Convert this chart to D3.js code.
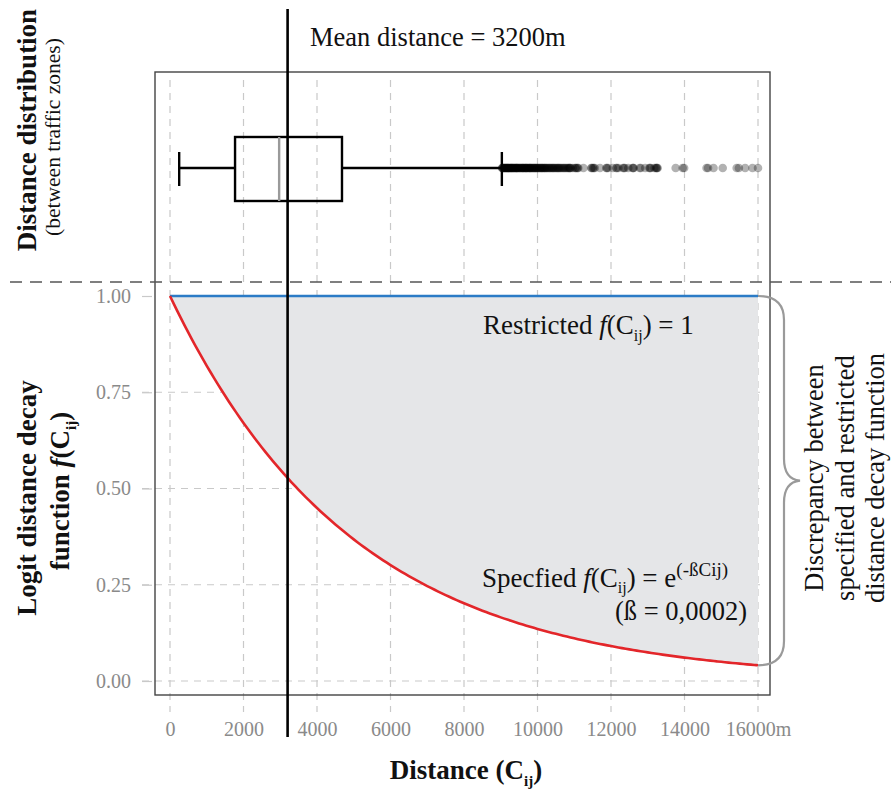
<!DOCTYPE html>
<html>
<head>
<meta charset="utf-8">
<script src="https://cdn.jsdelivr.net/npm/d3@7"></script>
<style>
  html, body { margin: 0; padding: 0; background: #fff; }
  svg { display: block; font-family: "Liberation Serif", "Times New Roman", serif; }
</style>
</head>
<body>
<svg id="chart" width="891" height="791"></svg>
<script>
// ---- data ----
const xTicks = [0, 2000, 4000, 6000, 8000, 10000, 12000, 14000, 16000];
const xTickLabels = ["0", "2000", "4000", "6000", "8000", "10000", "12000", "14000", "16000m"];
const yTicks = [0, 0.25, 0.5, 0.75, 1];
const yTickLabels = ["0.00", "0.25", "0.50", "0.75", "1.00"];

// box plot summary of distances between traffic zones (m)
const boxStats = { lowerWhisker: 250, q1: 1770, median: 2970, q3: 4680, upperWhisker: 9030 };
// outlying distances beyond the upper whisker (m)
const outliers = [
  9035, 9045, 9055, 9070, 9085, 9095, 9110, 9125, 9140, 9150, 9160, 9175, 9190, 9200,
  9210, 9220, 9240, 9255, 9265, 9280, 9290, 9305, 9320, 9330, 9345, 9360, 9375, 9390,
  9410, 9420, 9430, 9445, 9455, 9470, 9490, 9510, 9520, 9540, 9555, 9575, 9590, 9600,
  9615, 9630, 9650, 9665, 9680, 9690, 9705, 9720, 9740, 9760, 9775, 9790, 9800, 9815,
  9835, 9850, 9870, 9890, 9905, 9920, 9940, 9955, 9975, 9990, 10010, 10030, 10050,
  10070, 10090, 10110, 10125, 10140, 10165, 10185, 10200, 10220, 10240, 10260, 10285,
  10310, 10330, 10350, 10375, 10400, 10420, 10440, 10465, 10490, 10515, 10540, 10560,
  10580, 10605, 10630, 10660, 10690, 10715, 10740, 10770, 10800, 10830, 10850, 10870,
  10890, 10900, 10960, 11020, 11040, 11070, 11090, 11110, 11250, 11460, 11480, 11510,
  11530, 11560, 11700, 11870, 11890, 11920, 12050, 12140, 12160, 12200, 12330, 12350,
  12380, 12470, 12590, 12600, 12620, 12780, 12810, 12930, 13040, 13060, 13080, 13180,
  13220, 13240, 13250, 13270, 13760, 13950, 13990, 14600, 14640, 14790, 15040, 15420,
  15480, 15650, 15850, 16000
];
const meanDistance = 3200;

// distance decay: specified f(C) = exp(-beta * C), restricted f(C) = 1
const beta = 0.0002;
const decayDistances = d3.range(0, 16001, 100);
const specified = decayDistances.map(c => ({ c, f: Math.exp(-beta * c) }));
const restrictedValue = 1;

// ---- layout ----
const svg = d3.select("#chart");
const frame = { left: 155, right: 770, top: 72, bottom: 695 };
const x = d3.scaleLinear().domain([0, 16000]).range([170, 758]);
const y = d3.scaleLinear().domain([0, 1]).range([681, 296]);
const boxY = 168;
const gridColor = "#c9c9c9";

// vertical grid lines: upper panel and lower panel
const grid = svg.append("g").attr("stroke", gridColor).attr("stroke-width", 1.2).attr("stroke-dasharray", "7,6");
grid.selectAll(".vTop").data(xTicks).join("line")
  .attr("x1", d => x(d)).attr("x2", d => x(d)).attr("y1", 80).attr("y2", 282);
grid.selectAll(".vBot").data(xTicks).join("line")
  .attr("x1", d => x(d)).attr("x2", d => x(d)).attr("y1", 290).attr("y2", 712);
grid.selectAll(".h").data(yTicks.filter(d => d < 1)).join("line")
  .attr("x1", 142).attr("x2", 766).attr("y1", d => y(d)).attr("y2", d => y(d));

// gap between the two decay functions
const area = d3.area()
  .x(d => x(d.c))
  .y0(d => y(d.f))
  .y1(() => y(restrictedValue));
svg.append("path").datum(specified).attr("d", area).attr("fill", "#e5e6e8");

// restricted and specified curves
svg.append("line")
  .attr("x1", x(0)).attr("x2", x(16000))
  .attr("y1", y(restrictedValue)).attr("y2", y(restrictedValue))
  .attr("stroke", "#2b7bc6").attr("stroke-width", 2.6);
svg.append("path").datum(specified)
  .attr("d", d3.line().x(d => x(d.c)).y(d => y(d.f)).curve(d3.curveMonotoneX))
  .attr("fill", "none").attr("stroke", "#e3262a").attr("stroke-width", 2.6);

// frame
svg.append("rect")
  .attr("x", frame.left).attr("y", frame.top)
  .attr("width", frame.right - frame.left).attr("height", frame.bottom - frame.top)
  .attr("fill", "none").attr("stroke", "#444").attr("stroke-width", 1.4);

// panel separator
svg.append("line")
  .attr("x1", 10).attr("x2", 891).attr("y1", 282).attr("y2", 282)
  .attr("stroke", "#555").attr("stroke-width", 1.5).attr("stroke-dasharray", "12,8");

// box plot
const bp = svg.append("g").attr("stroke", "#000").attr("stroke-width", 2.4).attr("fill", "none");
bp.append("line").attr("x1", x(boxStats.lowerWhisker)).attr("x2", x(boxStats.q1)).attr("y1", boxY).attr("y2", boxY);
bp.append("line").attr("x1", x(boxStats.q3)).attr("x2", x(boxStats.upperWhisker)).attr("y1", boxY).attr("y2", boxY);
bp.append("line").attr("x1", x(boxStats.lowerWhisker)).attr("x2", x(boxStats.lowerWhisker)).attr("y1", boxY - 16).attr("y2", boxY + 18);
bp.append("line").attr("x1", x(boxStats.upperWhisker)).attr("x2", x(boxStats.upperWhisker)).attr("y1", boxY - 16).attr("y2", boxY + 18);
bp.append("rect").attr("x", x(boxStats.q1)).attr("y", boxY - 31)
  .attr("width", x(boxStats.q3) - x(boxStats.q1)).attr("height", 64);
bp.append("line").attr("x1", x(boxStats.median)).attr("x2", x(boxStats.median))
  .attr("y1", boxY - 31).attr("y2", boxY + 33).attr("stroke", "#9a9a9a");

svg.append("g").selectAll("circle").data(outliers).join("circle")
  .attr("cx", d => x(d)).attr("cy", boxY).attr("r", 4.3)
  .attr("fill", "#000").attr("fill-opacity", 0.3);

// mean distance line
svg.append("line")
  .attr("x1", x(meanDistance)).attr("x2", x(meanDistance)).attr("y1", 9).attr("y2", 737)
  .attr("stroke", "#000").attr("stroke-width", 2.6);
svg.append("text").attr("x", 310).attr("y", 46).attr("font-size", 26.5).attr("fill", "#111")
  .text(`Mean distance = ${meanDistance}m`);

// axes
const yAxis = d3.axisLeft(y).tickValues(yTicks).tickFormat((d, i) => yTickLabels[i])
  .tickSize(10).tickPadding(11);
const gy = svg.append("g").attr("transform", "translate(152,0)").call(yAxis);
gy.select(".domain").remove();
gy.selectAll(".tick line").attr("stroke", gridColor).attr("stroke-width", 1.2);
gy.selectAll(".tick text").attr("fill", "#8a8a8a").attr("font-size", 20)
  .attr("font-family", "Liberation Serif, serif");

const xAxis = d3.axisBottom(x).tickValues(xTicks).tickFormat((d, i) => xTickLabels[i])
  .tickSize(0).tickPadding(25);
const gx = svg.append("g").attr("transform", "translate(0,697)").call(xAxis);
gx.select(".domain").remove();
gx.selectAll(".tick text").attr("fill", "#8a8a8a").attr("font-size", 20)
  .attr("font-family", "Liberation Serif, serif");

// curly brace marking the gap between the functions
const bTop = y(restrictedValue), bBot = y(specified[specified.length - 1].f), bMid = (bTop + bBot) / 2;
svg.append("path")
  .attr("d", `M758,${bTop} C776,${bTop} 784,${bTop + 8} 784,${bTop + 24} L784,${bMid - 22}
              C784,${bMid - 8} 790,${bMid - 1} 800,${bMid} C790,${bMid + 1} 784,${bMid + 8} 784,${bMid + 22}
              L784,${bBot - 24} C784,${bBot - 8} 776,${bBot} 758,${bBot}`)
  .attr("fill", "none").attr("stroke", "#9a9a9a").attr("stroke-width", 2.2);

// annotations inside the lower panel
const t1 = svg.append("text").attr("x", 483).attr("y", 334).attr("font-size", 27).attr("fill", "#111");
t1.append("tspan").text("Restricted ");
t1.append("tspan").attr("font-style", "italic").text("f");
t1.append("tspan").text("(C");
t1.append("tspan").attr("font-size", 16).attr("dy", 7).text("ij");
t1.append("tspan").attr("dy", -7).text(") = 1");

const t2 = svg.append("text").attr("x", 482).attr("y", 587).attr("font-size", 27).attr("fill", "#111");
t2.append("tspan").text("Specfied ");
t2.append("tspan").attr("font-style", "italic").text("f");
t2.append("tspan").text("(C");
t2.append("tspan").attr("font-size", 16).attr("dy", 6).text("ij");
t2.append("tspan").attr("dy", -6).text(") = e");
t2.append("tspan").attr("font-size", 19).attr("dy", -11).text("(-ßCij)");

svg.append("text").attr("x", 747).attr("y", 620).attr("font-size", 26.5).attr("fill", "#111")
  .attr("text-anchor", "end").text(`(ß = ${String(beta).replace(".", ",")})`);

// left titles
svg.append("text").attr("transform", "translate(36,130) rotate(-90)")
  .attr("text-anchor", "middle").attr("font-size", 27).attr("font-weight", "bold").attr("fill", "#111")
  .text("Distance distribution");
svg.append("text").attr("transform", "translate(60,137) rotate(-90)")
  .attr("text-anchor", "middle").attr("font-size", 21.5).attr("fill", "#111")
  .text("(between traffic zones)");

svg.append("text").attr("transform", "translate(36,498) rotate(-90)")
  .attr("text-anchor", "middle").attr("font-size", 27).attr("font-weight", "bold").attr("fill", "#111")
  .text("Logit distance decay");
const yl = svg.append("text").attr("transform", "translate(69,491) rotate(-90)")
  .attr("text-anchor", "middle").attr("font-size", 27).attr("font-weight", "bold").attr("fill", "#111");
yl.append("tspan").text("function ");
yl.append("tspan").attr("font-style", "italic").text("f");
yl.append("tspan").text("(C");
yl.append("tspan").attr("font-size", 15).attr("dy", 7).text("ij");
yl.append("tspan").attr("dy", -7).text(")");

// right explanation of the brace
const rLines = ["Discrepancy between", "specified and restricted", "distance decay function"];
svg.append("g").selectAll("text").data(rLines).join("text")
  .attr("transform", (d, i) => `translate(${823 + i * 30.5},478) rotate(-90)`)
  .attr("text-anchor", "middle").attr("font-size", 26.5).attr("fill", "#111")
  .text(d => d);

// x axis title
const xl = svg.append("text").attr("x", 466).attr("y", 779).attr("text-anchor", "middle")
  .attr("font-size", 27).attr("font-weight", "bold").attr("fill", "#111");
xl.append("tspan").text("Distance (C");
xl.append("tspan").attr("font-size", 15).attr("dy", 7).text("ij");
xl.append("tspan").attr("dy", -7).text(")");
</script>
</body>
</html>
